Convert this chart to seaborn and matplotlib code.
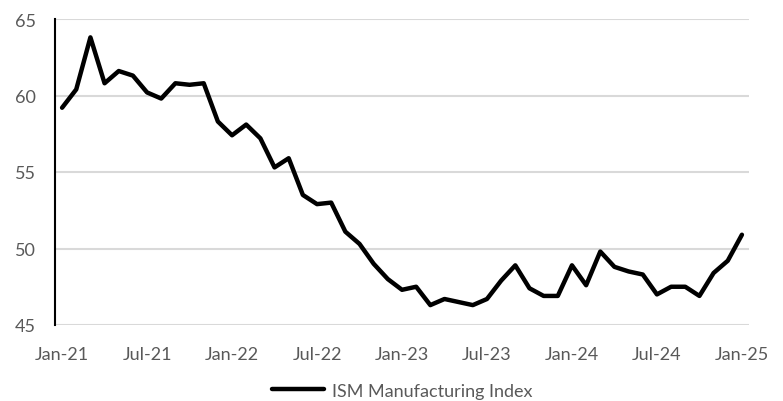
import matplotlib
matplotlib.use("Agg")
import matplotlib.pyplot as plt
import seaborn as sns
import pandas as pd
import numpy as np

months = pd.date_range("2021-01-01", "2025-01-01", freq="MS")
ism_values = [
    59.2, 60.4, 63.8, 60.8, 61.6, 61.3, 60.2, 59.8, 60.8, 60.7, 60.8, 58.3,
    57.4, 58.1, 57.2, 55.3, 55.9, 53.5, 52.9, 53.0, 51.1, 50.3, 49.0, 48.0,
    47.3, 47.5, 46.3, 46.7, 46.5, 46.3, 46.7, 47.9, 48.9, 47.4, 46.9, 46.9,
    48.9, 47.6, 49.8, 48.8, 48.5, 48.3, 47.0, 47.5, 47.5, 46.9, 48.4, 49.2,
    50.9,
]
series_name = "ISM Manufacturing Index"
y_ticks = [45, 50, 55, 60, 65]

df = pd.DataFrame({
    "pos": np.arange(len(months)),
    "label": months.strftime("%b-%y"),
    "value": ism_values,
    "series": series_name,
})

sns.set_theme(style="white")
plt.rcParams["font.family"] = ["Lato", "DejaVu Sans"]

fig = plt.figure(figsize=(7.83, 4.02), dpi=100)
ax = fig.add_axes([55 / 783, 1 - 326 / 402, (749 - 55) / 783, (326 - 20) / 402])

sns.lineplot(data=df, x="pos", y="value", hue="series", palette=["black"],
             linewidth=3.2, ax=ax, legend=True)

ax.set_xlim(-0.5, len(months) - 0.5)
ax.set_ylim(45, 65)
ax.set_yticks(y_ticks)
tick_pos = df["pos"][::6]
ax.set_xticks(tick_pos)
ax.set_xticklabels(df["label"][::6])
ax.yaxis.grid(True, color="#d9d9d9", linewidth=1.5)
ax.set_axisbelow(True)
for s in ["top", "right", "bottom"]:
    ax.spines[s].set_visible(False)
ax.spines["left"].set_color("black")
ax.spines["left"].set_linewidth(1.5)
ax.tick_params(axis="both", length=0, labelsize=13, labelcolor="#595959")
ax.tick_params(axis="x", pad=15)
ax.tick_params(axis="y", pad=14)
ax.set_xlabel("")
ax.set_ylabel("")

handles, labels = ax.get_legend_handles_labels()
ax.legend(handles, labels, loc="center", bbox_to_anchor=(0.5, -0.215),
          frameon=False, fontsize=13, labelcolor="#595959", handlelength=2.9,
          handletextpad=0.4)

fig.savefig("out.png", dpi=100)
